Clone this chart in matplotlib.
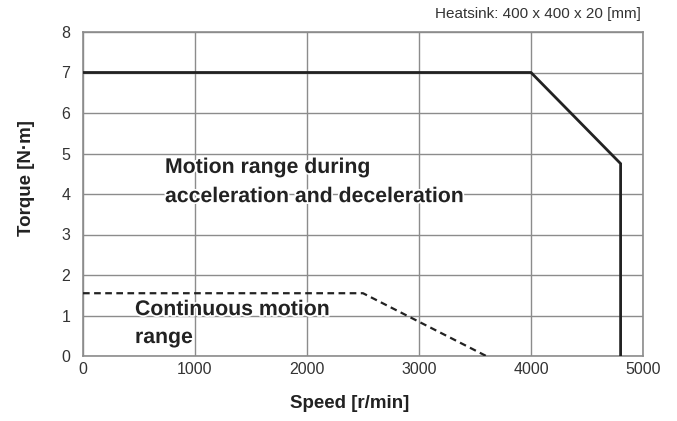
import numpy as np
import matplotlib.pyplot as plt
import matplotlib.patheffects as pe

plt.rcParams['font.family'] = ['Liberation Sans', 'DejaVu Sans']

# Datos
accel_speed = [0, 4000, 4800, 4800]
accel_torque = [7.0, 7.0, 4.75, 0.0]
cont_speed = [0, 2500, 3600]
cont_torque = [1.55, 1.55, 0.0]
x_ticks = [0, 1000, 2000, 3000, 4000, 5000]
y_ticks = [0, 1, 2, 3, 4, 5, 6, 7, 8]

fig = plt.figure(figsize=(6.77, 4.21), dpi=100)
ax = fig.add_axes([83 / 677, 1 - 356 / 421, 560 / 677, 324 / 421])

ax.plot(accel_speed, accel_torque, color='#222222', lw=2.0, solid_joinstyle='miter', zorder=4)
ax.plot(cont_speed, cont_torque, color='#222222', lw=1.6, ls=(0, (3, 2)), zorder=4)

ax.set_xlim(0, 5000)
ax.set_ylim(0, 8)
ax.set_xticks(x_ticks)
ax.set_yticks(y_ticks)
ax.grid(True, color='#8c8c8c', lw=1.0)
ax.set_axisbelow(True)
ax.tick_params(length=0, labelsize=11.5, colors='#333333')
ax.tick_params(axis='y', pad=9)
ax.tick_params(axis='x', pad=4)
for s in ax.spines.values():
    s.set_color('#8c8c8c')
    s.set_linewidth(1.2)

ax.set_xlabel('Speed [r/min]', fontsize=13.5, fontweight='bold', color='#222222', labelpad=13)
ax.xaxis.label.set_x(0.477)
ax.set_ylabel('Torque [N·m]', fontsize=13.5, fontweight='bold', color='#222222', labelpad=19)
ax.yaxis.label.set_y(0.55)

# etiquetas de las zonas, con un borde blanco fino
halo = [pe.withStroke(linewidth=2.5, foreground='white')]
lbl = dict(fontsize=15.3, fontweight='bold', color='#222222', va='baseline', ha='left',
           path_effects=halo, zorder=3)
ax.text(732, 4.52, 'Motion range during', **lbl)
ax.text(732, 3.80, 'acceleration and deceleration', **lbl)
ax.text(464, 1.01, 'Continuous motion', **lbl)
ax.text(464, 0.32, 'range', **lbl)

fig.text(641 / 677, 1 - 14 / 421, 'Heatsink: 400 x 400 x 20 [mm]', fontsize=11,
         color='#333333', ha='right', va='center')

fig.savefig('out.png', dpi=100)
